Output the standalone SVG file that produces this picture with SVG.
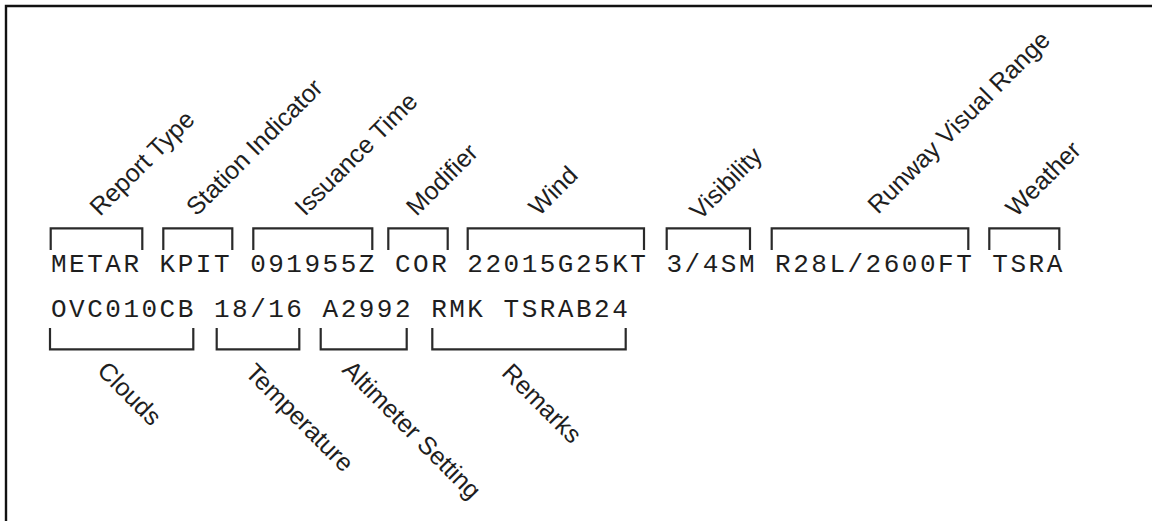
<svg xmlns="http://www.w3.org/2000/svg" width="1152" height="521" viewBox="0 0 1152 521">
<style>
.code{font-family:"Liberation Mono","DejaVu Sans Mono",monospace;font-size:26px;letter-spacing:2.5px;fill:#1e1e1e}
.lbl{font-family:"Liberation Sans",Arial,sans-serif;font-size:25px;fill:#1e1e1e}
.br{fill:none;stroke:#2a2a2a;stroke-width:2.2}
.frame{stroke:#111;stroke-width:2.4;fill:none}
</style>
<rect width="1152" height="521" fill="#ffffff"/>
<g id="frame"><path class="frame" d="M6 521 V6 H1152"/></g>
<g id="metar-line1"><text class="code" x="51" y="272">METAR KPIT 091955Z COR 22015G25KT 3/4SM R28L/2600FT TSRA</text></g>
<g id="metar-line2"><text class="code" x="51" y="317">OVC010CB 18/16 A2992 RMK TSRAB24</text></g>
<g id="connectors">
<path class="br" d="M50.7 250 V228.3 H142.3 V250"/>
<path class="br" d="M163.3 250 V228.3 H232.3 V250"/>
<path class="br" d="M253.3 250 V228.3 H372.3 V250"/>
<path class="br" d="M388.3 250 V228.3 H447.7 V250"/>
<path class="br" d="M467.7 250 V228.3 H644 V250"/>
<path class="br" d="M666.7 250 V228.3 H750 V250"/>
<path class="br" d="M771.7 250 V228.3 H968.3 V250"/>
<path class="br" d="M989.3 250 V228.3 H1059.3 V250"/>
<path class="br" d="M50 328 V349.3 H193.3 V328"/>
<path class="br" d="M216.7 328 V349.3 H299.3 V328"/>
<path class="br" d="M320.7 328 V349.3 H406.7 V328"/>
<path class="br" d="M432.3 328 V349.3 H625.7 V328"/>
</g>
<g id="report-type"><text class="lbl" transform="translate(100,217) rotate(-45)">Report Type</text></g>
<g id="station-indicator"><text class="lbl" transform="translate(196.5,217) rotate(-45)">Station Indicator</text></g>
<g id="issuance-time"><text class="lbl" transform="translate(305,217) rotate(-45)">Issuance Time</text></g>
<g id="modifier"><text class="lbl" transform="translate(416.5,217) rotate(-45)">Modifier</text></g>
<g id="wind"><text class="lbl" transform="translate(539,217) rotate(-45)">Wind</text></g>
<g id="visibility"><text class="lbl" transform="translate(700,221) rotate(-45)">Visibility</text></g>
<g id="runway-visual-range"><text class="lbl" transform="translate(878,215) rotate(-45)">Runway Visual Range</text></g>
<g id="weather"><text class="lbl" transform="translate(1016,218) rotate(-45)">Weather</text></g>
<g id="clouds"><text class="lbl" transform="translate(96,372) rotate(45)">Clouds</text></g>
<g id="temperature"><text class="lbl" transform="translate(244,374) rotate(45)">Temperature</text></g>
<g id="altimeter-setting"><text class="lbl" transform="translate(341,371) rotate(45)">Altimeter Setting</text></g>
<g id="remarks"><text class="lbl" transform="translate(500.5,374) rotate(45)">Remarks</text></g>
</svg>
